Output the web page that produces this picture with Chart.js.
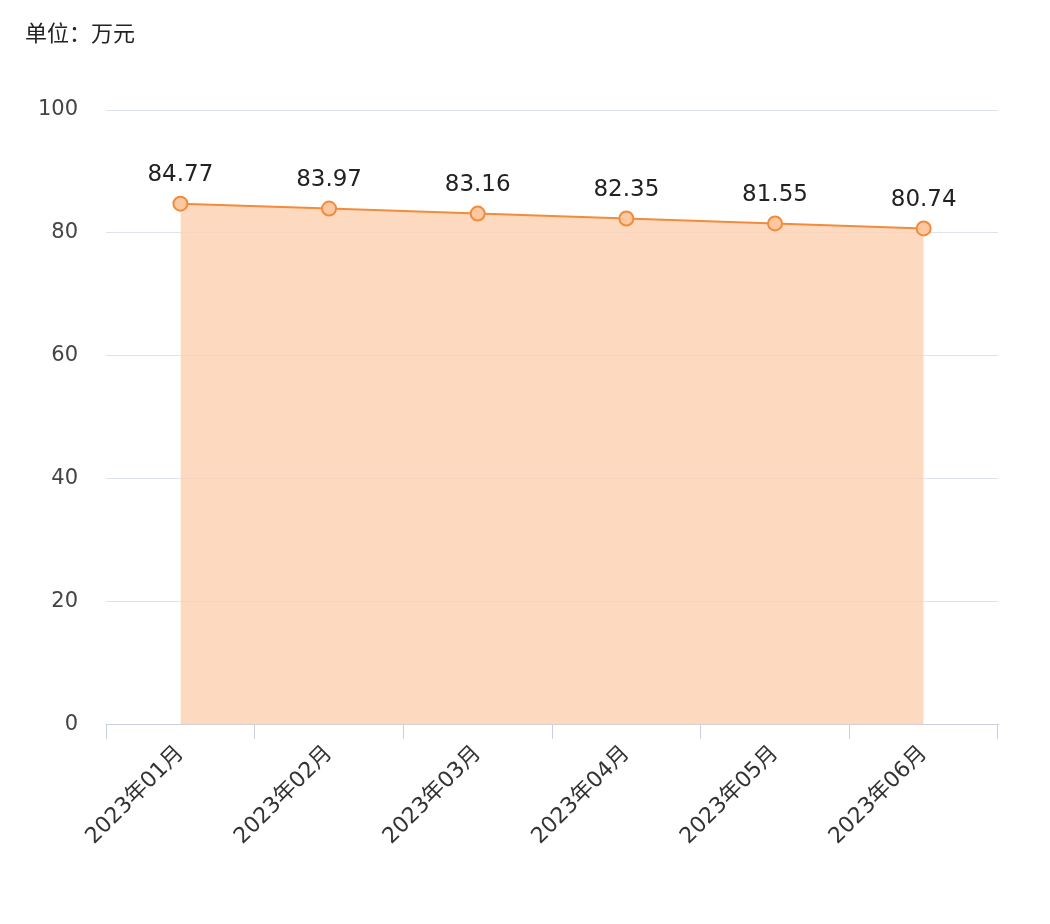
<!DOCTYPE html>
<html>
<head>
<meta charset="utf-8">
<script src="https://cdn.jsdelivr.net/npm/chart.js@4"></script>
<style>
  body { margin: 0; background: #fff; }
  #wrap { width: 1050px; height: 924px; }
</style>
</head>
<body>
<div id="wrap"><canvas id="my_chart"></canvas></div>
<script>
const months = ["2023年01月", "2023年02月", "2023年03月", "2023年04月", "2023年05月", "2023年06月"];
const values = [84.77, 83.97, 83.16, 82.35, 81.55, 80.74];
const yTicks = [0, 20, 40, 60, 80, 100];

const font = "'DejaVu Sans', 'Noto Sans CJK SC', sans-serif";

const labelPlugin = {
  id: "labels",
  afterDatasetsDraw(chart) {
    const c = chart.ctx;
    c.save();
    c.fillStyle = "#222";
    c.font = "23px " + font;
    c.textAlign = "center";
    c.textBaseline = "bottom";
    chart.getDatasetMeta(0).data.forEach((pt, i) => {
      c.fillText(values[i].toFixed(2), pt.x, pt.y - 17);
    });
    c.textAlign = "left";
    c.textBaseline = "middle";
    c.font = "22px 'Noto Sans CJK SC', sans-serif";
    c.fillText("单位：万元", 25, 33);
    c.restore();
  },
};

const ctx = document.getElementById("my_chart");
new Chart(ctx, {
  type: "line",
  data: {
    labels: months,
    datasets: [
      {
        data: values,
        borderColor: "rgb(240,140,60)",
        borderWidth: 2,
        backgroundColor: "rgba(252,208,176,0.8)",
        fill: "origin",
        pointRadius: 7,
        pointBackgroundColor: "rgb(253,200,160)",
        pointBorderColor: "rgb(240,140,60)",
        pointBorderWidth: 2,
      },
    ],
  },
  options: {
    responsive: true,
    maintainAspectRatio: false,
    animation: false,
    layout: { padding: { top: 110, right: 52, left: 10, bottom: 72 } },
    plugins: { legend: { display: false }, tooltip: { enabled: false } },
    scales: {
      x: {
        offset: true,
        grid: { offset: true, drawOnChartArea: false, drawTicks: true, tickLength: 14, color: "#c8d0e0" },
        border: { color: "#c8d0e0" },
        ticks: {
          color: "#333",
          font: { size: 22, family: font },
          maxRotation: 45,
          minRotation: 45,
          padding: 2,
        },
      },
      y: {
        min: 0,
        max: 100,
        afterBuildTicks: (axis) => { axis.ticks = yTicks.map((v) => ({ value: v })); },
        grid: { color: "#dfe3ee", drawTicks: false },
        border: { display: false },
        ticks: { color: "#444", font: { size: 21, family: font }, padding: 28 },
      },
    },
  },
  plugins: [labelPlugin],
});
</script>
</body>
</html>
